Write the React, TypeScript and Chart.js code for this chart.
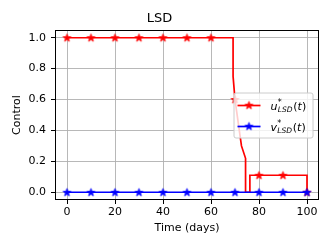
import React, { useEffect, useRef } from "react";
import { Chart, registerables } from "chart.js";

Chart.register(...registerables);

// ---- data ----
const chartTitle = "LSD";
const xAxisLabel = "Time (days)";
const yAxisLabel = "Control";
const xTickValues = [0, 20, 40, 60, 80, 100];
const yTickValues = [0, 0.2, 0.4, 0.6, 0.8, 1.0];

// control u*_LSD(t) (line trace)
const uTimes = [0, 69.2, 69.2, 70, 72.7, 74.4, 74.4, 76.2, 76.2, 100, 100];
const uValues = [1, 1, 0.75, 0.6, 0.3, 0.22, 0, 0, 0.11, 0.11, 0];

// markers every 10 days
const markTimes = [0, 10, 20, 30, 40, 50, 60, 70, 80, 90, 100];
const uMarks = [1, 1, 1, 1, 1, 1, 1, 0.6, 0.11, 0.11, 0];
const vMarks = [0, 0, 0, 0, 0, 0, 0, 0, 0, 0, 0];

const RED = "#ff0000";
const BLUE = "#0000ff";
const FONT = "'DejaVu Sans', sans-serif";

function starPath(ctx: CanvasRenderingContext2D, cx: number, cy: number, R: number) {
  const r = R * 0.381966;
  ctx.beginPath();
  for (let i = 0; i < 10; i++) {
    const rad = i % 2 === 0 ? R : r;
    const a = -Math.PI / 2 + (i * Math.PI) / 5;
    const px = cx + rad * Math.cos(a);
    const py = cy + rad * Math.sin(a);
    if (i === 0) ctx.moveTo(px, py);
    else ctx.lineTo(px, py);
  }
  ctx.closePath();
}

function makeStar(color: string): HTMLCanvasElement {
  const c = document.createElement("canvas");
  c.width = 11;
  c.height = 11;
  const ctx = c.getContext("2d")!;
  starPath(ctx, 5.5, 5.8, 4.1);
  ctx.fillStyle = color;
  ctx.fill();
  ctx.strokeStyle = color;
  ctx.lineWidth = 0.9;
  ctx.stroke();
  return c;
}

export default function App() {
  const ref = useRef<HTMLCanvasElement>(null);

  useEffect(() => {
    const canvas = ref.current!;
    const redStar = makeStar(RED);
    const blueStar = makeStar(BLUE);

    const framePlugin = {
      id: "frame",
      afterDatasetsDraw(chart: any) {
        const { ctx, chartArea } = chart;
        const l = Math.round(chartArea.left) + 0.5;
        const t = Math.round(chartArea.top) + 0.5;
        const r = Math.round(chartArea.right) - 0.5;
        const b = Math.round(chartArea.bottom) - 0.5;
        ctx.save();
        ctx.strokeStyle = "#000";
        ctx.lineWidth = 1;
        ctx.strokeRect(l, t, r - l, b - t);
        ctx.restore();
      },
    };

    const legendPlugin = {
      id: "mathLegend",
      afterDraw(chart: any) {
        const { ctx, chartArea } = chart;
        const w = 79;
        const h = 45;
        const x0 = chartArea.right - 6 - w;
        const y0 = (chartArea.top + chartArea.bottom) / 2 - h / 2 + 0.5;
        ctx.save();
        ctx.beginPath();
        const rr = 2;
        ctx.moveTo(x0 + rr, y0);
        ctx.arcTo(x0 + w, y0, x0 + w, y0 + h, rr);
        ctx.arcTo(x0 + w, y0 + h, x0, y0 + h, rr);
        ctx.arcTo(x0, y0 + h, x0, y0, rr);
        ctx.arcTo(x0, y0, x0 + w, y0, rr);
        ctx.closePath();
        ctx.fillStyle = "rgba(255,255,255,0.8)";
        ctx.fill();
        ctx.strokeStyle = "#cccccc";
        ctx.lineWidth = 1;
        ctx.stroke();

        const entries = [
          { color: RED, img: redStar, base: "u" },
          { color: BLUE, img: blueStar, base: "v" },
        ];
        entries.forEach((e, i) => {
          const cy = y0 + 12.5 + i * 21;
          const lx = x0 + 3.5;
          ctx.strokeStyle = e.color;
          ctx.lineWidth = 1.7;
          ctx.beginPath();
          ctx.moveTo(lx, cy);
          ctx.lineTo(lx + 23, cy);
          ctx.stroke();
          ctx.drawImage(e.img, lx + 11.5 - 5.5, cy - 5.8);

          let tx = lx + 33;
          const baseY = cy + 4;
          ctx.fillStyle = "#000";
          ctx.textBaseline = "alphabetic";
          ctx.textAlign = "left";
          ctx.font = `italic 11px ${FONT}`;
          ctx.fillText(e.base, tx, baseY);
          tx += ctx.measureText(e.base).width + 0.3;
          ctx.font = `8px ${FONT}`;
          ctx.fillText("*", tx, baseY - 5);
          const supW = ctx.measureText("*").width;
          ctx.font = `italic 7.5px ${FONT}`;
          ctx.fillText("LSD", tx, baseY + 2.5);
          const subW = ctx.measureText("LSD").width;
          tx += Math.max(supW, subW) + 0.8;
          ctx.font = `11px ${FONT}`;
          ctx.fillText("(", tx, baseY);
          tx += ctx.measureText("(").width;
          ctx.font = `italic 11px ${FONT}`;
          ctx.fillText("t", tx, baseY);
          tx += ctx.measureText("t").width;
          ctx.font = `11px ${FONT}`;
          ctx.fillText(")", tx, baseY);
        });
        ctx.restore();
      },
    };

    const chart = new Chart(canvas, {
      type: "line",
      data: {
        datasets: [
          {
            data: markTimes.map((t, i) => ({ x: t, y: vMarks[i] })),
            borderColor: BLUE,
            backgroundColor: BLUE,
            borderWidth: 1.7,
            pointStyle: blueStar as any,
            pointRadius: 4,
            tension: 0,
            fill: false,
            order: 0,
          },
          {
            data: markTimes.map((t, i) => ({ x: t, y: uMarks[i] })),
            showLine: false,
            pointStyle: redStar as any,
            pointRadius: 4,
            borderColor: RED,
            backgroundColor: RED,
            order: 1,
          },
          {
            data: uTimes.map((t, i) => ({ x: t, y: uValues[i] })),
            borderColor: RED,
            backgroundColor: RED,
            borderWidth: 1.7,
            pointRadius: 0,
            tension: 0,
            fill: false,
            order: 2,
          },
        ],
      },
      options: {
        animation: false,
        responsive: false,
        devicePixelRatio: 1,
        layout: { padding: { top: 0, right: 13, bottom: 0, left: 0 } },
        plugins: {
          legend: { display: false },
          tooltip: { enabled: false },
          title: {
            display: true,
            text: chartTitle,
            color: "#000",
            font: { family: FONT, size: 13, weight: "normal" },
            padding: { top: 11, bottom: 3.4 },
          },
        },
        scales: {
          x: {
            type: "linear",
            min: -5,
            max: 105,
            afterFit: (s: any) => {
              s.height = 49;
            },
            afterBuildTicks: (s: any) => {
              s.ticks = xTickValues.map((v) => ({ value: v }));
            },
            ticks: {
              color: "#000",
              font: { family: FONT, size: 11 },
              padding: 2,
              maxRotation: 0,
              callback: (v: any) => String(v),
            },
            grid: {
              color: "#b0b0b0",
              lineWidth: 0.9,
              drawTicks: true,
              tickLength: 4,
              tickColor: "#000",
              tickWidth: 1,
            },
            border: { display: false },
            title: {
              display: true,
              text: xAxisLabel,
              color: "#000",
              font: { family: FONT, size: 11 },
              padding: { top: 0, bottom: 14 },
            },
          },
          y: {
            type: "linear",
            min: -0.05,
            max: 1.05,
            afterFit: (s: any) => {
              s.width = 55;
            },
            afterBuildTicks: (s: any) => {
              s.ticks = yTickValues.map((v) => ({ value: v }));
            },
            ticks: {
              color: "#000",
              font: { family: FONT, size: 11 },
              padding: 5,
              callback: (v: any) => Number(v).toFixed(1),
            },
            grid: {
              color: "#b0b0b0",
              lineWidth: 0.9,
              drawTicks: true,
              tickLength: 4,
              tickColor: "#000",
              tickWidth: 1,
            },
            border: { display: false },
            title: {
              display: true,
              text: yAxisLabel,
              color: "#000",
              font: { family: FONT, size: 11 },
              padding: { top: 11, bottom: 0 },
            },
          },
        },
      },
      plugins: [framePlugin, legendPlugin],
    } as any);

    return () => chart.destroy();
  }, []);

  return (
    <div style={{ position: "absolute", left: 0, top: 0, width: 332, height: 249 }}>
      <canvas ref={ref} width={332} height={249} style={{ display: "block" }} />
    </div>
  );
}
